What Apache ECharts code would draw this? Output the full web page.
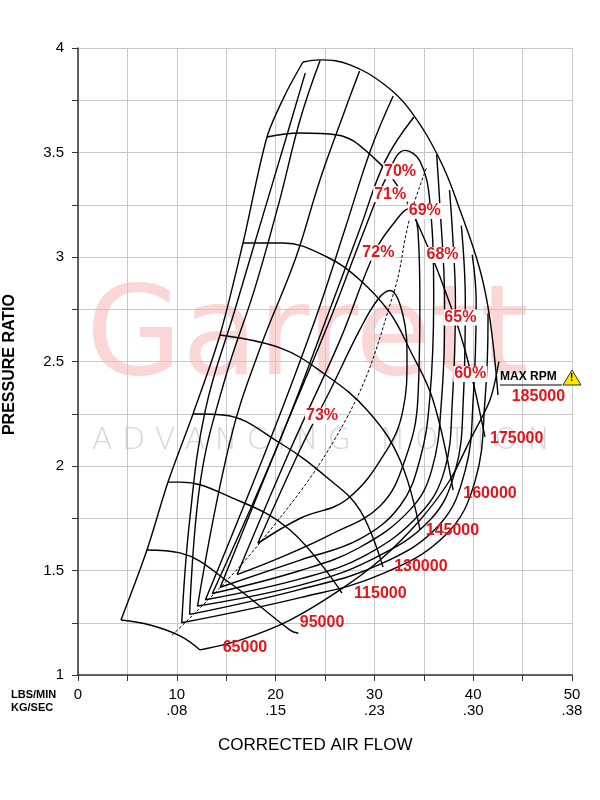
<!DOCTYPE html>
<html><head><meta charset="utf-8">
<script src="https://cdn.jsdelivr.net/npm/echarts@6/dist/echarts.min.js"></script>
<style>html,body{margin:0;padding:0;background:#fff}#c{width:600px;height:800px}</style>
</head><body><div id="c"></div>
<script>
const xTicks=[0,10,20,30,40,50];
const kgLabels={0:'',10:'.08',20:'.15',30:'.23',40:'.30',50:'.38'};
const surgeLine=[[4.35,1.263],[6.98,1.598],[9.11,1.923],[11.64,2.249],[14.37,2.627],[16.70,3.067],[19.13,3.574],[20.95,3.775],[22.77,3.933]];
const chokeLine=[[12.35,1.12],[16.40,1.167],[21.46,1.263],[26.52,1.407],[30.57,1.55],[34.62,1.742],[37.65,1.933],[39.68,2.124],[41.70,2.316],[42.6,2.5]];
const speedNames=['65000','95000','115000','130000','145000','160000','175000','185000'];
const speed65000=[[4.35,1.263],[7.29,1.239],[10.32,1.187],[12.35,1.12]];
const speed95000=[[6.98,1.598],[10.32,1.584],[15.38,1.44],[21.46,1.215],[22.3,1.2]];
const speed115000=[[9.11,1.923],[10.32,1.923],[15.38,1.852],[21.46,1.694],[26.72,1.392]];
const speed130000=[[11.64,2.249],[14.68,2.244],[20.45,2.11],[25.51,1.933],[28.54,1.789],[30.87,1.517]];
const speed145000=[[14.37,2.627],[20.45,2.565],[24.80,2.445],[29.25,2.268],[32.59,2.029],[34.62,1.694]];
const speed160000=[[16.70,3.067],[20.75,3.067],[25.20,3.0],[28.54,2.89],[31.58,2.732],[33.60,2.555],[35.93,2.316],[37.96,1.885]];
const speed175000=[[19.13,3.574],[22.47,3.593],[26.21,3.584],[29.86,3.478],[32.59,3.321],[35.12,3.08],[37.15,2.84],[39.17,2.555],[41.19,2.139]];
const speed185000=[[22.77,3.933],[24.49,3.943],[27.53,3.919],[31.07,3.823],[33.6,3.703],[36.64,3.464],[38.66,3.225],[40.69,2.938],[41.70,2.7],[42.51,2.34]];
const speedLines=[speed65000,speed95000,speed115000,speed130000,speed145000,speed160000,speed175000,speed185000];
const speedLabelPos=[[16.9,1.13],[24.7,1.25],[30.6,1.39],[34.7,1.52],[37.9,1.69],[41.7,1.87],[44.4,2.13],[46.6,2.33]];
const eff73=[[18.2,1.63],[22.5,2.08],[25.5,2.36],[28.5,2.65],[30.4,2.80],[31.6,2.84],[32.9,2.72],[33.3,2.51],[32.9,2.27],[31.3,2.08],[27.2,1.84],[22.5,1.75],[18.2,1.63]];
const eff72=[[16.1,1.48],[21.5,2.08],[26.5,2.60],[30.1,3.03],[32.1,3.17],[33.4,3.23],[34.4,3.13],[34.6,2.79],[34.4,2.32],[33.1,2.03],[30.6,1.81],[25.5,1.67],[20.4,1.56],[16.1,1.48]];
const eff71=[[14.4,1.42],[20.4,2.12],[25.5,2.70],[29.0,3.13],[31.1,3.37],[33.1,3.51],[34.6,3.46],[35.6,3.27],[36.0,2.79],[35.6,2.32],[34.6,2.03],[32.6,1.81],[28.5,1.65],[22.5,1.55],[14.4,1.42]];
const eff70=[[34.0,3.67],[31.1,3.46],[28.5,3.13],[25.5,2.75],[20.4,2.12],[13.6,1.39],[22.5,1.50],[28.5,1.61],[33.6,1.79],[35.8,1.98],[36.8,2.32],[37.1,2.79],[36.6,3.27],[36.3,3.49]];
const eff69=[[31.9,3.77],[29.6,3.51],[27.0,3.13],[24.0,2.70],[19.4,2.12],[12.9,1.36],[22.5,1.46],[29.0,1.57],[34.6,1.77],[37.1,1.98],[37.9,2.32],[38.2,2.79],[37.9,3.12],[37.6,3.32]];
const eff68=[[28.5,3.89],[27.0,3.70],[24.5,3.37],[22.0,2.99],[18.4,2.56],[15.4,2.12],[12.1,1.33],[22.5,1.43],[29.6,1.55],[35.6,1.74],[38.2,1.98],[39.0,2.32],[39.2,2.79],[38.8,3.15]];
const eff65=[[24.5,3.94],[22.5,3.66],[20.4,3.27],[17.9,2.85],[14.9,2.42],[12.4,1.93],[11.3,1.29],[22.5,1.41],[30.6,1.53],[36.6,1.72],[39.2,1.98],[40.0,2.32],[40.3,2.79],[39.9,3.01]];
const eff60=[[23.0,3.88],[21.0,3.56],[18.6,3.18],[15.9,2.75],[12.9,2.27],[11.3,1.74],[10.5,1.25],[22.5,1.37],[30.6,1.48],[37.2,1.67],[40.2,1.93],[41.2,2.32],[41.5,2.70],[41.5,2.73]];
const effLines=[eff73,eff72,eff71,eff70,eff69,eff68,eff65,eff60];
const peakLine=[[9.5,1.19],[18.2,1.62],[27.2,2.23],[31.9,2.82],[33.6,3.19],[35.3,3.43]];
const effNames=['70%','71%','69%','72%','68%','65%','60%','73%'];
const effLabelPos=[[32.6,3.41],[31.6,3.30],[35.1,3.22],[30.4,3.02],[36.9,3.01],[38.7,2.71],[39.7,2.44],[24.7,2.24]];

const chart=echarts.init(document.getElementById('c'));
const lineStyle={color:'#000',width:1.4};
const series=[];
const addLine=(d,smooth)=>series.push({type:'line',data:d,smooth:smooth,showSymbol:false,symbol:'none',lineStyle:lineStyle,z:3,silent:true});
addLine(surgeLine,0.3);addLine(chokeLine,0.3);
speedLines.forEach(d=>addLine(d,0.4));
effLines.forEach(d=>addLine(d,0.4));
series.push({type:'line',data:peakLine,smooth:0.4,symbol:'none',lineStyle:{color:'#000',width:1,type:[3,2]},z:3});
const lbl={show:true,formatter:p=>p.data.name,color:'#e3141b',opacity:1,fontWeight:'bold',fontSize:16,fontFamily:'Liberation Sans, Arial',backgroundColor:'#fff',padding:[0,1],position:'inside'};
const lblSeries=(names,pos,l)=>({type:'scatter',symbol:'circle',symbolSize:0,silent:true,itemStyle:{color:'#fff',opacity:1},z:10,
  emphasis:{disabled:true},data:names.map((n,i)=>({name:n,value:pos[i]})),label:l});
series.push(lblSeries(effNames,effLabelPos,lbl));
series.push(lblSeries(speedNames,speedLabelPos,Object.assign({},lbl,{backgroundColor:'transparent'})));

chart.setOption({
  animation:false,
  grid:{left:78,right:28,top:48,bottom:125},
  graphic:[
    {type:'text',left:86,top:280,z:0,style:{text:'Garrett',fontSize:124,fontFamily:'DejaVu Sans',fill:'rgba(240,130,130,0.33)'}},
    {type:'text',left:92,top:426,z:0,style:{text:'A D V A N C I N G   M O T I O N',fontSize:30,fontFamily:'DejaVu Sans',fontWeight:'lighter',fill:'rgba(165,165,165,0.45)'}},
    {type:'text',left:500,top:371,z:20,style:{text:'MAX RPM',fontSize:12,fontWeight:'bold',fontFamily:'Liberation Sans, Arial',fill:'#000'}},
    {type:'line',z:20,shape:{x1:500,y1:385,x2:562,y2:385},style:{stroke:'#000',lineWidth:1.2}},
    {type:'polygon',z:20,shape:{points:[[572,370],[563,385],[581,385]]},style:{fill:'#ffe600',stroke:'#333',lineWidth:1}},
    {type:'text',z:21,left:570,top:373,style:{text:'!',fontSize:10,fontWeight:'bold',fill:'#000'}},
    {type:'text',left:11,top:688,style:{text:'LBS/MIN\nKG/SEC',fontSize:11,fontWeight:'bold',fontFamily:'Liberation Sans, Arial',fill:'#000',lineHeight:13}},
    {type:'text',left:218,top:737,style:{text:'CORRECTED AIR FLOW',fontSize:17,fontFamily:'Liberation Sans, Arial',fill:'#000'}},
    {type:'text',left:2,top:294,rotation:Math.PI/2,style:{text:'PRESSURE RATIO',fontSize:16,fontWeight:'bold',fontFamily:'Liberation Sans, Arial',fill:'#000'}}
  ],
  xAxis:{type:'value',min:0,max:50,interval:5,
    axisLine:{onZero:false,lineStyle:{color:'#333',width:1.5}},
    axisTick:{show:true,length:6,inside:false,lineStyle:{color:'#333'}},
    splitLine:{lineStyle:{color:'#c8c8c8',width:1}},
    axisLabel:{margin:12,color:'#000',fontSize:15,lineHeight:16,fontFamily:'Liberation Sans, Arial',
      formatter:v=>xTicks.includes(v)?(v+(kgLabels[v]?'\n'+kgLabels[v]:'')):''}},
  yAxis:{type:'value',min:1,max:4,interval:0.25,
    axisLine:{show:true,lineStyle:{color:'#333',width:1.5}},
    axisTick:{show:true,length:6,lineStyle:{color:'#333'}},
    splitLine:{lineStyle:{color:'#c8c8c8',width:1}},
    axisLabel:{margin:14,color:'#000',fontSize:15,fontFamily:'Liberation Sans, Arial',
      formatter:v=>(Math.round(v*100)%50===0)?String(v):''}},
  series:series
});
</script></body></html>
